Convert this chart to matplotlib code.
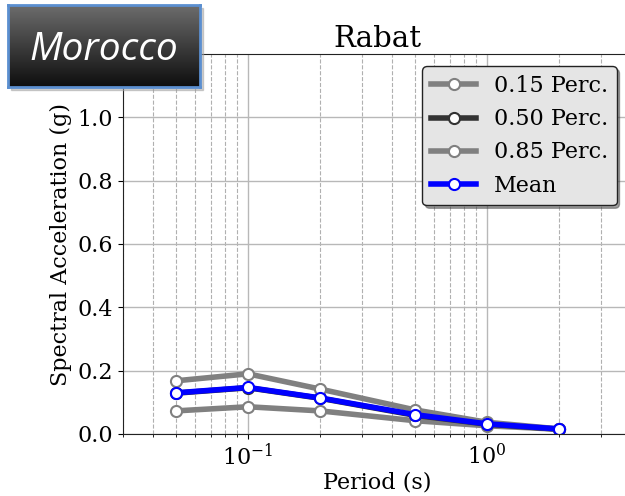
import numpy as np
import matplotlib
matplotlib.use('Agg')
import matplotlib.pyplot as plt
from matplotlib.patches import Rectangle

plt.rcParams['font.family'] = 'DejaVu Serif'

period = [0.05, 0.1, 0.2, 0.5, 1.0, 2.0]
p15 = [0.073, 0.086, 0.073, 0.042, 0.026, 0.015]
p50 = [0.129, 0.146, 0.113, 0.059, 0.031, 0.015]
p85 = [0.168, 0.190, 0.142, 0.076, 0.037, 0.016]
mean = [0.130, 0.147, 0.114, 0.061, 0.032, 0.016]

series = [('0.15 Perc.', p15, '#808080'),
          ('0.50 Perc.', p50, '#333333'),
          ('0.85 Perc.', p85, '#808080'),
          ('Mean', mean, '#0000ff')]

fig = plt.figure(figsize=(6.25, 4.96), dpi=100)
ax = fig.add_axes([123/625, 62/496, 508/625, 380/496])

for name, vals, col in series:
    ax.plot(period, vals, color=col, lw=4, marker='o', ms=8,
            mfc='white', mec=col, mew=1.5, label=name)

ax.set_xscale('log')
ax.set_xlim(0.03, 4)
ax.set_ylim(0, 1.2)
ax.set_yticks([0, 0.2, 0.4, 0.6, 0.8, 1.0])
ax.grid(True, which='major', color='#b8b8b8', lw=1, ls='-')
ax.grid(True, which='minor', axis='x', color='#b0b0b0', lw=0.8, ls='--')
ax.set_axisbelow(True)
ax.tick_params(direction='out', labelsize=16, top=False, right=False)
ax.tick_params(which='minor', direction='out', top=False)
for s in ['left', 'bottom', 'top']:
    ax.spines[s].set_color('#222222')
ax.spines['right'].set_visible(False)

ax.set_title('Rabat', fontsize=21, pad=5)
ax.set_xlabel('Period (s)', fontsize=16, labelpad=1)
ax.set_ylabel('Spectral Acceleration (g)', fontsize=16)

leg = ax.legend(loc='upper right', fontsize=16, fancybox=True, shadow=True,
                bbox_to_anchor=(0.985, 0.985), framealpha=1,
                borderaxespad=0.3)
leg.get_frame().set_facecolor('#e5e5e5')
leg.get_frame().set_edgecolor('#222222')

# country banner
fig.patches.append(Rectangle((11/625, 1 - 90/496), 192/625, 82/496,
                             transform=fig.transFigure, color='#a0a0a0',
                             alpha=0.5, zorder=5))
bax = fig.add_axes([8/625, 1 - 87/496, 192/625, 82/496], zorder=6)
grad = np.linspace(0, 1, 100).reshape(-1, 1)
bax.imshow(grad, aspect='auto', cmap=matplotlib.colors.LinearSegmentedColormap.from_list(
    'g', ['#6c6c6c', '#0e0e0e']), extent=[0, 1, 0, 1])
bax.set_xticks([])
bax.set_yticks([])
for s in bax.spines.values():
    s.set_color('#5b8fd0')
    s.set_linewidth(2)
bax.text(0.5, 0.45, 'Morocco', color='white', fontsize=28, style='italic',
         family='Open Sans', ha='center', va='center', transform=bax.transAxes)

fig.savefig('out.png', dpi=100)
